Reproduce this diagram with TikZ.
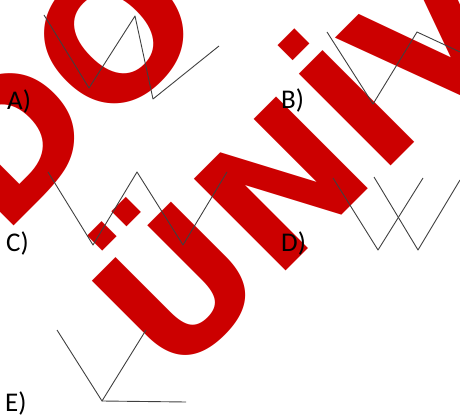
\documentclass[tikz,border=0pt]{standalone}
\usepackage{fontspec}
\setmainfont{Carlito}
\newfontfamily\stampfont{DejaVu Sans}
\definecolor{stampred}{RGB}{204,0,0}
\tikzset{
  watermark/.style={rotate=45, inner sep=0pt, text=stampred, font=\stampfont\bfseries\fontsize{178}{178}\selectfont},
  optlabel/.style={anchor=base west, inner sep=0pt, font=\fontsize{27}{27}\selectfont},
  graphline/.style={draw=black!75, line width=0.9pt, line join=round}
}

\begin{document}
\begin{tikzpicture}[x=1pt, y=-1pt]
  \useasboundingbox (0,0) rectangle (460,419);
  % watermark behind the answers
  \begin{scope}
    \clip (0,0) rectangle (460,419);
    \node[watermark, anchor=base west] (stampA) at (2,238) {DO};
    \node[watermark, anchor=base west] (stampB) at (172,385) {ÜNİV};
  \end{scope}

  % A)
  \node[optlabel] (labA) at (7,110) {A)};
  \coordinate (a1) at (44,15);
  \coordinate (a2) at (89,88);
  \coordinate (a3) at (135,16);
  \coordinate (a4) at (153,99);
  \coordinate (a5) at (219,46);
  \path[graphline] (a1) -- (a2) -- (a3) -- (a4) -- (a5);

  % B)
  \node[optlabel] (labB) at (281,109) {B)};
  \coordinate (b1) at (327,32);
  \coordinate (b2) at (373,104);
  \coordinate (b3) at (417,32);
  \coordinate (b4) at (460,52);
  \path[graphline] (b1) -- (b2) -- (b3) -- (b4);

  % C)
  \node[optlabel] (labC) at (6,252) {C)};
  \coordinate (c1) at (48,172);
  \coordinate (c2) at (93,245);
  \coordinate (c3) at (137,172);
  \coordinate (c4) at (183,245);
  \coordinate (c5) at (227,172);
  \path[graphline] (c1) -- (c2) -- (c3) -- (c4) -- (c5);

  % D)
  \node[optlabel] (labD) at (281,252) {D)};
  \coordinate (d1) at (333,178);
  \coordinate (d2) at (378,250);
  \coordinate (d3) at (423,178);
  \coordinate (d4) at (374,177);
  \coordinate (d5) at (418,250);
  \coordinate (d6) at (460,180);
  \path[graphline] (d1) -- (d2) -- (d3);
  \path[graphline] (d4) -- (d5) -- (d6);

  % E)
  \node[optlabel] (labE) at (5,411) {E)};
  \coordinate (e1) at (57,330);
  \coordinate (e2) at (102,401);
  \coordinate (e3) at (146,330);
  \coordinate (e4) at (186,402);
  \path[graphline] (e1) -- (e2) -- (e3);
  \path[graphline] (e2) -- (e4);
\end{tikzpicture}
\end{document}
